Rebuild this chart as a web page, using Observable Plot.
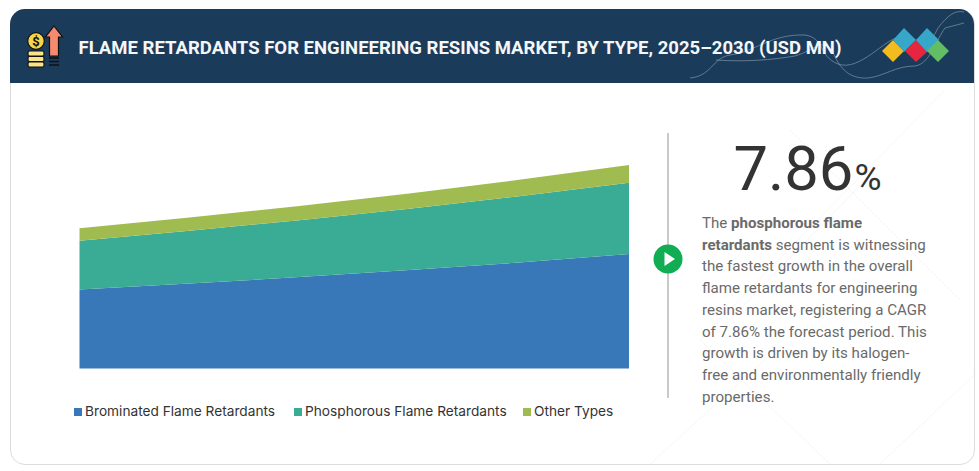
<!DOCTYPE html>
<html><head><meta charset="utf-8">
<script src="https://cdn.jsdelivr.net/npm/d3@7"></script>
<script src="https://cdn.jsdelivr.net/npm/@observablehq/plot@0.6"></script>
<style>
html,body{margin:0;padding:0;background:#fff;width:979px;height:471px;overflow:hidden}
#stage{position:relative;width:979px;height:471px;overflow:hidden}
#card{position:absolute;left:10px;top:9px;width:963px;height:454px;border:1px solid #dcdcdc;border-radius:15px;overflow:hidden;background:#fff}
#title{position:absolute;left:78.5px;top:37px;font:700 18.52px Roboto,sans-serif;color:#f4f6f8;white-space:nowrap}
svg.deco{position:absolute;left:0;top:0}
#chart{position:absolute;left:0;top:0}
#legend{position:absolute;left:0;top:402px;font:13.7px Inter,sans-serif;color:#333;white-space:nowrap}
#legend span.i{position:absolute;top:0;line-height:18px}
#legend i{display:inline-block;width:8px;height:8px;margin-right:3px;vertical-align:0}
#big{position:absolute;left:733.5px;top:134px;font:400 61.5px/70px Roboto,sans-serif;color:#333;white-space:nowrap}
#big small{font-size:37px;font-weight:400;margin-left:1px}
#para{position:absolute;left:702px;top:213px;font:400 15.1px/21.7px Roboto,sans-serif;color:#6a6a6a;white-space:nowrap}
#para b{font-weight:700}
</style></head>
<body>
<div id="stage">
<div id="card"></div>
<svg class="deco" width="979" height="471" viewBox="0 0 979 471" fill="none">
  <g stroke="#000" stroke-opacity=".04" stroke-width="1">
    <path d="M945 90L700 340L830 464M790 130L960 300M880 165L720 330M974 375L880 464M770 355L650 464"/>
  </g>
</svg>
<div id="head" style="position:absolute;left:10px;top:9px;width:964px;height:74px;border-radius:15px 15px 0 0;background:#1b3b5b"></div>
<svg class="deco" width="979" height="471" viewBox="0 0 979 471" fill="none">
  <g stroke="#8fa3b6" stroke-opacity=".6" stroke-width="1">
    <path d="M690 78C712 76 712 58 730 55C755 52 770 34 805 35C825 38 818 56 838 64C860 72 885 38 900 37C925 42 930 45 938 28C948 15 955 10 964 12"/>
    <path d="M716 60C745 62 772 60 795 56C815 50 822 38 832 50C840 70 850 79 868 78C885 76 895 66 915 66C930 64 936 40 945 28L964 23"/>
  </g>
  <g>
    <path d="M893 40L904 51L893 62L882 51Z" fill="#f2bc1f"/>
    <path d="M904 28L916 40L904 52L893 40Z" fill="#37a7c9"/>
    <path d="M916 40L928 51L916 62L905 51Z" fill="#e8253f"/>
    <path d="M927 28L939 40L927 52L916 40Z" fill="#37a7c9"/>
    <path d="M938 40L949 51L938 62L927 51Z" fill="#62bd64"/>
  </g>
  <g stroke="#111" stroke-width="1.2">
    <path d="M54 26L62.5 37H58.5V56H49.5V37H45.5Z" fill="#f58a6e"/>
    <circle cx="36" cy="41" r="8.3" fill="#f7d54a"/>
    <rect x="28" y="51" width="16" height="5" rx="1.5" fill="#f8e48a"/>
    <rect x="28" y="56.5" width="16" height="5" rx="1.5" fill="#f8e48a"/>
    <rect x="28" y="62" width="16" height="5" rx="1.5" fill="#f8e48a"/>
    <path d="M49 58H59M49 61.5H59M49 65H59" stroke-width="1.3"/>
  </g>
  <text x="36" y="46" font-family="Roboto" font-weight="700" font-size="13" text-anchor="middle" fill="#111">$</text>
  <rect x="667" y="133" width="2" height="265" fill="#c9c9c9"/>
  <circle cx="668" cy="259" r="14.5" fill="#10ad52"/>
  <path d="M664.5 252L675 259L664.5 266Z" fill="#fff"/>
</svg>
<div id="title">FLAME RETARDANTS FOR ENGINEERING RESINS MARKET, BY TYPE, 2025–2030 (USD MN)</div>
<div id="chart"></div>
<div id="legend"></div>
<div id="big">7.86<small>%</small></div>
<div id="para">The <b>phosphorous flame</b><br><b>retardants</b> segment is witnessing<br>the fastest growth in the overall<br>flame retardants for engineering<br>resins market, registering a CAGR<br>of 7.86% the forecast period. This<br>growth is driven by its halogen-<br>free and environmentally friendly<br>properties.</div>
</div>
<script>
const years = [2025, 2026, 2027, 2028, 2029, 2030];
const brominated = [790, 850, 915, 985, 1060, 1145];
const phosphorous = [490, 530, 570, 615, 665, 715];
const otherTypes = [123, 132, 141, 152, 164, 177];
const seriesNames = ["Brominated Flame Retardants", "Phosphorous Flame Retardants", "Other Types"];
const seriesColors = ["#3878b8", "#3aab94", "#a0bc50"];
const seriesValues = [brominated, phosphorous, otherTypes];
const legendLefts = [74, 294, 523];

const rows = seriesNames.flatMap((name, s) => years.map((year, i) => ({year, name, value: seriesValues[s][i]})));

const plot = Plot.plot({
  width: 979, height: 471,
  style: {background: "transparent"},
  x: {axis: null, domain: [2025, 2030], range: [79.5, 629]},
  y: {axis: null, domain: [0, 2037], range: [368.5, 165]},
  color: {domain: seriesNames, range: seriesColors},
  marks: [
    Plot.areaY(rows, {x: "year", y: "value", fill: "name", order: seriesNames, curve: "linear"})
  ]
});
document.getElementById("chart").append(plot);

const legend = document.getElementById("legend");
seriesNames.forEach((name, i) => {
  const el = document.createElement("span");
  el.className = "i";
  el.style.left = legendLefts[i] + "px";
  const sw = document.createElement("i");
  sw.style.background = seriesColors[i];
  el.append(sw, name);
  legend.append(el);
});
</script>
</body></html>
